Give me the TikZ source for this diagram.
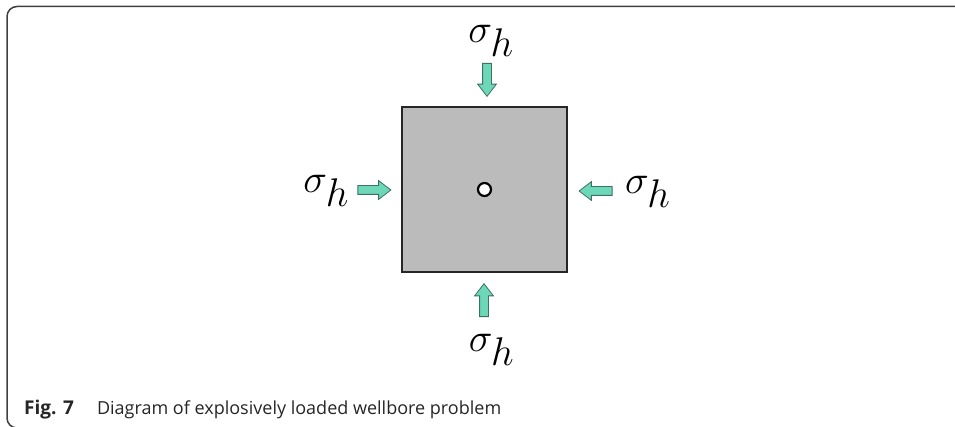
\RequirePackage{fix-cm}
\documentclass[tikz,border=0pt]{standalone}
\usepackage{fontspec}
\newfontfamily\capfont{Open Sans}
\usepackage{tikz}
\usetikzlibrary{shapes.arrows,positioning}
\definecolor{loadfill}{RGB}{108,216,184}
\definecolor{loaddraw}{RGB}{62,112,100}
\definecolor{rockgray}{RGB}{187,187,187}
\tikzset{
  rock/.style={
    rectangle,
    draw=black!85,
    line width=1.3pt,
    fill=rockgray,
    minimum size=\blockSize,
    inner sep=0pt
  },
  bore/.style={
    circle,
    draw=black,
    line width=2.2pt,
    fill=white,
    minimum size=13pt,
    inner sep=0pt
  },
  load/.style={
    single arrow,
    draw=loaddraw,
    line width=0.8pt,
    fill=loadfill,
    minimum height=33pt,
    inner sep=4pt,
    single arrow head extend=5pt,
    single arrow tip angle=75
  },
  stress/.style={
    font=\fontsize{40}{44}\selectfont,
    inner sep=0pt
  },
  frameline/.style={
    draw=black!75,
    line width=1.5pt,
    rounded corners=10pt
  }
}
\def\blockSize{165pt}
\def\sigh{$\sigma_{\textstyle h}$}

\begin{document}
\begin{tikzpicture}[x=1pt,y=-1pt]
  % same proportions as the page of the figure
  \useasboundingbox (0,0) rectangle (955,427);

  % frame, only its top and left sides are seen
  \begin{scope}
    \clip (0,0) rectangle (955,427);
    \draw[frameline] (965,6.5) -- (7,6.5) -- (7,428) -- (40,428);
  \end{scope}

  % block with the wellbore in its middle
  \node[rock] (block) at (484.5,189.5) {};
  \node[bore] (hole) at (block.center) {};

  % loads on the four sides
  \node[load, shape border rotate=270] (arrN) at (487,77) {};
  \node[load, shape border rotate=90]  (arrS) at (484,303) {};
  \node[load, shape border rotate=0]   (arrW) at (371.5,190) {};
  \node[load, shape border rotate=180] (arrE) at (598.5,191) {};

  \node[stress, anchor=base] (sigN) at (491,43) {\sigh};
  \node[stress, anchor=base] (sigS) at (491.5,351) {\sigh};
  \node[stress, anchor=base east] (sigW) at (349,193) {\sigh};
  \node[stress, anchor=base west] (sigE) at (625,194) {\sigh};

  % caption
  \node[anchor=base west, inner sep=0pt, text=black!85, font=\capfont\fontsize{18}{22}\selectfont] (cap) at (24,414)
    {{\bfseries\fontsize{19}{22}\selectfont Fig. 7}\hspace{23pt}Diagram of explosively loaded wellbore problem};
\end{tikzpicture}
\end{document}
